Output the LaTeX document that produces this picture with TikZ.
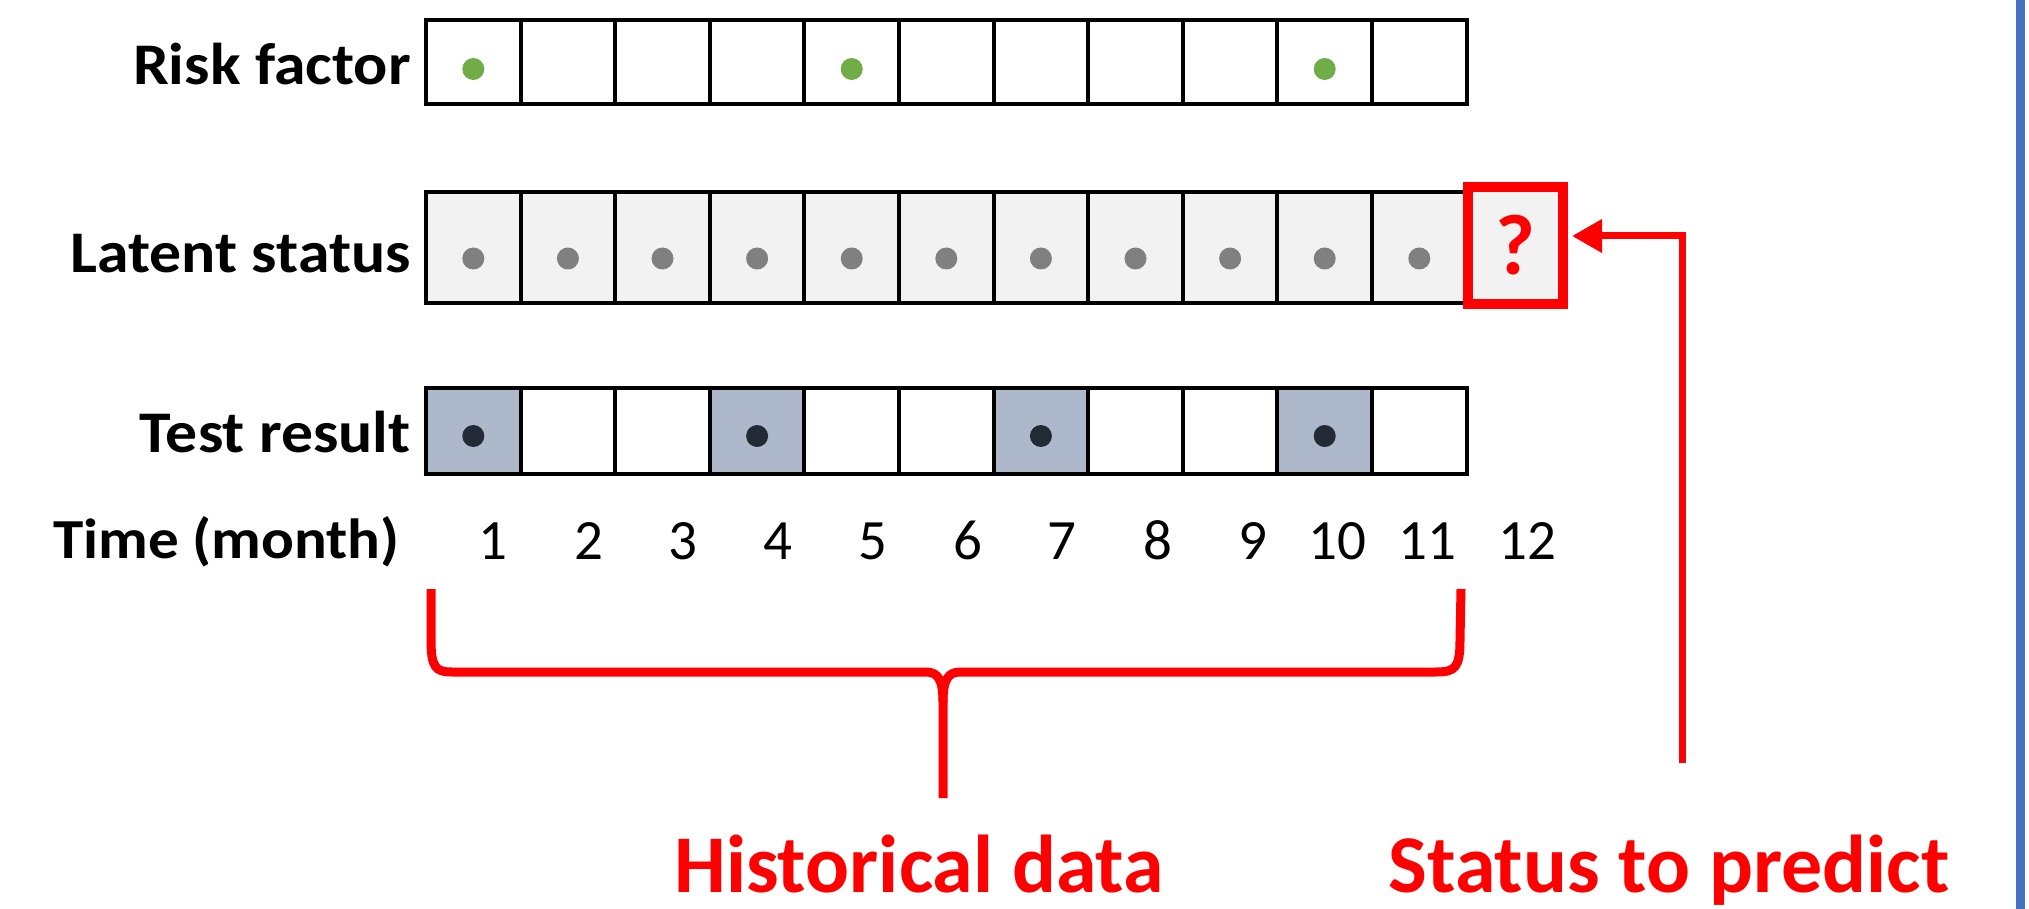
\documentclass[tikz,border=0pt]{standalone}
\usepackage{fontspec}
\setmainfont{Carlito}
\newfontfamily\widefont{Carlito}[FakeStretch=1.08]
\usetikzlibrary{arrows.meta}
\definecolor{riskgreen}{HTML}{70AD47}
\definecolor{latentgray}{HTML}{808080}
\definecolor{cellgray}{HTML}{F2F2F2}
\definecolor{testfill}{HTML}{ADB9CA}
\definecolor{testdot}{HTML}{222A35}
\definecolor{accentblue}{HTML}{4472C4}
\definecolor{alertred}{HTML}{FF0000}
\begin{document}
\begin{tikzpicture}[x=0.5pt,y=-0.5pt,
  cellbox/.style={draw=black, line width=2pt, minimum width=47.3pt,
    inner sep=0pt, outer sep=0pt, anchor=north west},
  dotmark/.style={circle, inner sep=0pt, minimum size=11pt},
  rowlabel/.style={anchor=base east, inner sep=0pt,
    font=\widefont\fontsize{29.5pt}{35pt}\selectfont\bfseries},
  monthnum/.style={anchor=base, inner sep=0pt,
    font=\fontsize{28.5pt}{34pt}\selectfont},
  bigred/.style={anchor=base, inner sep=0pt, text=alertred,
    font=\fontsize{41pt}{48pt}\selectfont\bfseries},
  arrowline/.style={draw=alertred, line width=3.5pt,
    -{Triangle[length=15pt, width=16pt]}, shorten >=2pt},
  braceline/.style={draw=alertred, line width=4.5pt, line join=round}]
\useasboundingbox (0,0) rectangle (2029,909);

% row labels
\node[rowlabel] (lblrisk) at (411,85) {Risk factor};
\node[rowlabel] (lbllatent) at (411,273) {Latent status};
\node[rowlabel] (lbltest) at (411,452) {Test result};
\node[rowlabel, font=\widefont\fontsize{28.3pt}{34pt}\selectfont\bfseries] (lbltime) at (400,558) {Time (month)};

% grid cells
\foreach \i in {1,...,11} {
  \pgfmathsetmacro{\xl}{426+(\i-1)*94.6}
  \node[cellbox, minimum height=42pt] (r\i) at (\xl,20) {};
  \node[cellbox, minimum height=55.5pt, fill=cellgray] (l\i) at (\xl,192) {};
  \node[cellbox, minimum height=43pt] (t\i) at (\xl,388) {};
}
% observed test months
\foreach \i in {1,4,7,10} {
  \node[cellbox, minimum height=43pt, fill=testfill] (t\i) at ({426+(\i-1)*94.6},388) {};
  \node[dotmark, fill=testdot] at ([yshift=-2.5pt]t\i.center) {};
}
% risk factor events
\foreach \i in {1,5,10} {
  \node[dotmark, fill=riskgreen] at ([yshift=-3.5pt]r\i.center) {};
}
% latent states
\foreach \i in {1,...,11} {
  \node[dotmark, fill=latentgray] at ([yshift=-5.5pt]l\i.center) {};
}

% month numbers
\foreach \n/\x in {1/493,2/589,3/683,4/778,5/873,6/968,7/1062,8/1158,9/1253,10/1337,11/1427,12/1527} {
  \node[monthnum] (m\n) at (\x,559) {\n};
}

% status to predict
\node[draw=alertred, line width=5pt, fill=cellgray, minimum width=47.5pt,
  minimum height=58.5pt, inner sep=0pt, anchor=north west,
  text=alertred, font=\fontsize{43pt}{50pt}\selectfont\bfseries] (q) at (1463,182) {?};

% bottom labels
\node[bigred] (hist) at (919,892) {Historical data};
\node[bigred] (pred) at (1669,892) {Status to predict};

% arrow to the predicted status
\coordinate (arrowfoot) at (1682,763);
\draw[arrowline] (arrowfoot) |- ([yshift=4.75pt]q.east);

% brace under the historical months
\draw[braceline] (431,589) -- (431,640) .. controls (431,668) and (436,672) .. (452,672)
  -- (926,672) .. controls (938,672) and (943,680) .. (943,702) -- (943,798);
\draw[braceline] (943,702) .. controls (943,680) and (948,672) .. (960,672)
  -- (1436,672) .. controls (1455,672) and (1460,668) .. (1460,640) -- (1461,589);

% divider on the right
\coordinate (divtop) at (2020.5,0);
\coordinate (divbot) at (2020.5,909);
\draw[accentblue, line width=4.5pt] (divtop) -- (divbot);
\end{tikzpicture}
\end{document}
